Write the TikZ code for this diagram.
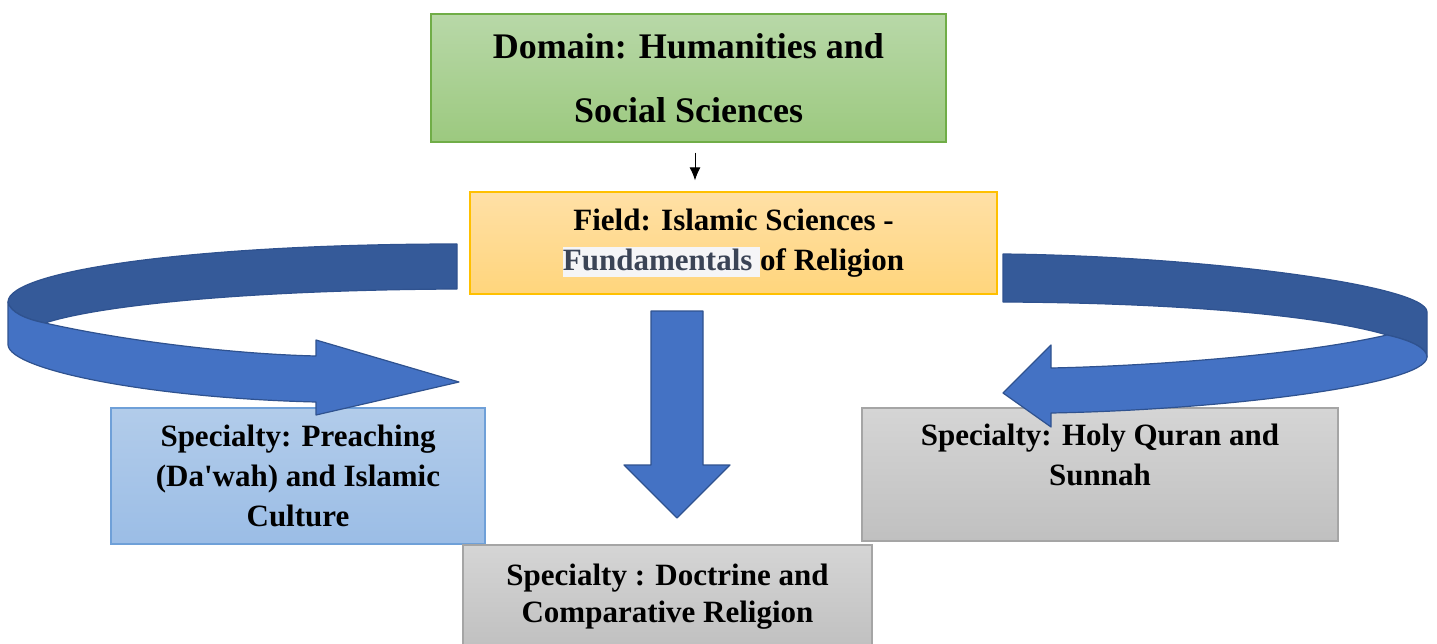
\documentclass[tikz,border=0pt]{standalone}
\usepackage{fontspec}
\setmainfont{Liberation Serif}
\usetikzlibrary{calc,arrows.meta}
\definecolor{domT}{HTML}{B8D8A8}
\definecolor{domB}{HTML}{9CC97F}
\definecolor{domE}{HTML}{70AD47}
\definecolor{fldT}{HTML}{FFE0A6}
\definecolor{fldB}{HTML}{FFD57C}
\definecolor{fldE}{HTML}{FFC000}
\definecolor{bluT}{HTML}{B2CCEA}
\definecolor{bluB}{HTML}{9BBDE6}
\definecolor{bluE}{HTML}{6FA0D8}
\definecolor{gryT}{HTML}{D5D5D5}
\definecolor{gryB}{HTML}{C0C0C0}
\definecolor{gryE}{HTML}{A5A5A5}
\definecolor{arrDark}{HTML}{355A99}
\definecolor{arrLight}{HTML}{4472C4}
\definecolor{arrEdge}{HTML}{2F528F}
\definecolor{hlBg}{HTML}{F5F5F7}
\definecolor{hlTx}{HTML}{3B4456}
\begin{document}
\begin{tikzpicture}[x=1pt,y=-1pt,
  box/.style={rectangle, line width=1.2pt, align=center, inner sep=0pt},
  spfont/.style={font=\fontsize{31}{40}\selectfont\bfseries},
  darkband/.style={fill=arrDark, draw=arrEdge, line width=1.2pt, line join=round},
  lightband/.style={fill=arrLight, draw=arrEdge, line width=1.2pt, line join=round},
  smallarrow/.style={-{Latex[length=13pt,width=11pt]}, line width=1pt}]
\useasboundingbox (0,0) rectangle (1437,644);
\clip (0,0) rectangle (1437,644);

% boxes
\node[box, top color=domT, bottom color=domB, draw=domE,
      minimum width=515, minimum height=128,
      font=\fontsize{36}{64}\selectfont\bfseries] (dom) at (688.5,78)
  {Domain: Humanities and\\Social Sciences};
\node[box, spfont, top color=fldT, bottom color=fldB, draw=fldE,
      minimum width=527, minimum height=102] (fld) at (733.5,243)
  {Field: Islamic Sciences -\\{\setlength{\fboxsep}{0pt}\colorbox{hlBg}{\rule[-7pt]{0pt}{30pt}\color{hlTx}Fundamentals\ }}of Religion};
\node[box, spfont, top color=bluT, bottom color=bluB, draw=bluE,
      minimum width=374, minimum height=136] (pre) at (298,476)
  {Specialty: Preaching\\(Da\textquotesingle wah) and Islamic\\Culture};
\node[box, spfont, top color=gryT, bottom color=gryB, draw=gryE,
      minimum width=476, minimum height=133] (qur) at (1100,474.5)
  {Specialty: Holy Quran and\\Sunnah\\\phantom{X}};
\node[box, font=\fontsize{31}{37}\selectfont\bfseries, top color=gryT, bottom color=gryB, draw=gryE,
      minimum width=409, minimum height=104] (doc) at (667.5,597)
  {Specialty : Doctrine and\\Comparative Religion};

% small connector
\draw[smallarrow] ($(dom.south)+(6.5,10)$) -- ($(fld.north)+(-38.5,-11)$);

% left curved arrow
\path[darkband] (457,244) .. controls (200,244) and (8,270) .. (8,302)
  .. controls (10,312) and (25,319) .. (45,323)
  .. controls (100,305) and (250,290) .. (457,289) -- cycle;
\path[lightband] (8,302) .. controls (10,312) and (25,319) .. (45,323)
  .. controls (120,340) and (230,354) .. (316,356)
  -- (316,340) -- (459,382) -- (316,415) -- (316,402)
  .. controls (150,398) and (10,370) .. (8,345) -- cycle;

% right curved arrow
\path[darkband] (1003,254) .. controls (1200,256) and (1427,285) .. (1427,312)
  -- (1427,357) .. controls (1427,348) and (1410,340) .. (1387,335)
  .. controls (1330,318) and (1200,303) .. (1003,302) -- cycle;
\path[lightband] (1387,335) .. controls (1410,340) and (1427,348) .. (1427,357)
  .. controls (1427,385) and (1220,410) .. (1051,413)
  -- (1051,427) -- (1003,393) -- (1051,345) -- (1051,368)
  .. controls (1150,366) and (1300,355) .. (1387,335) -- cycle;

% central down arrow
\path[lightband] (651,311) -- (703,311) -- (703,465) -- (730,465) -- (677,518)
  -- (624,465) -- (651,465) -- cycle;
\end{tikzpicture}
\end{document}
